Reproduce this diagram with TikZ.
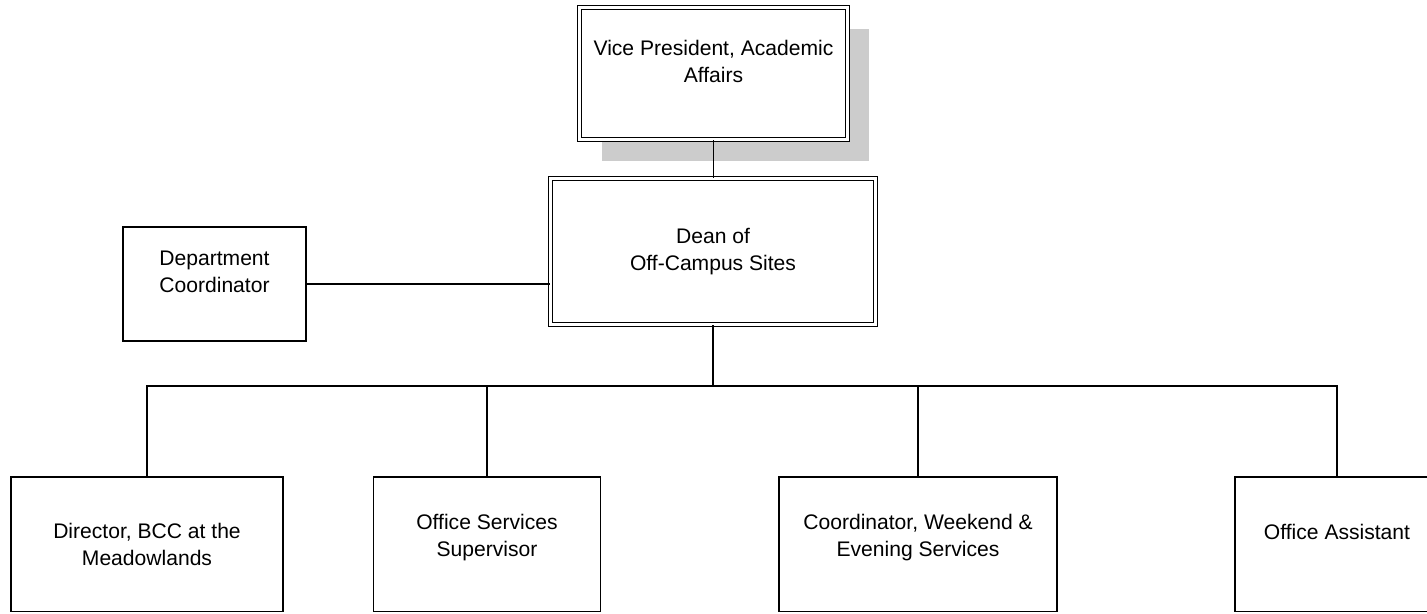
\documentclass[tikz,border=0pt]{standalone}
\usepackage{fontspec}
\setmainfont{Liberation Sans}
\usetikzlibrary{shadows}
\tikzset{
    unit/.style = {rectangle, draw=black, fill=white, line width=0.75pt, inner sep=0pt, align=center, font=\fontsize{12}{15.4}\selectfont},
    headunit/.style = {unit, double, double distance=0.065cm, line width=0.7pt},
    vpunit/.style = {headunit, drop shadow={shadow xshift=0.44cm, shadow yshift=-0.43cm, draw=none, fill=gray!40, opacity=1}},
    link/.style = {draw=black, line width=0.75pt},
}

\begin{document}
\begin{tikzpicture}[x=0.02cm, y=-0.02cm]
\useasboundingbox (0,0) rectangle (1427,613);
\clip (0,0) rectangle (1427,613);
\node[vpunit, minimum width=5.36cm, minimum height=2.64cm] at (713.5, 73.5) (vp) {Vice President, Academic\\Affairs\\[-0.2cm]\strut};
\node[headunit, minimum width=6.50cm, minimum height=2.92cm] at (713.0, 251.5) (dean) {Dean of\\Off-Campus Sites};
\node[unit, minimum width=3.66cm, minimum height=2.28cm] at (214.5, 284.0) (dept) {Department\\Coordinator\\[-0.2cm]\strut};
%
\node[unit, minimum width=5.44cm, minimum height=2.69cm] at (147.0, 544.25) (director) {Director, BCC at the\\Meadowlands};
\node[unit, minimum width=4.54cm, minimum height=2.69cm] at (487.0, 544.25) (supervisor) {Office Services\\Supervisor\\[-0.34cm]\strut};
\node[unit, minimum width=5.56cm, minimum height=2.69cm] at (918.0, 544.25) (weekend) {Coordinator, Weekend \&\\Evening Services\\[-0.34cm]\strut};
\node[unit, minimum width=4.08cm, minimum height=2.69cm] at (1337.0, 544.25) (assistant) {Office Assistant\\[-0.2cm]\strut};
%
\coordinate (bus) at (713, 386);
\draw[link] (vp.south) -- (vp.south |- dean.north);
\draw[link] (dept.east) -- (dept.east -| dean.west);
\draw[link] (dean.south) -- (bus);
\foreach \n in {director, supervisor, weekend, assistant}
    \draw[link] (bus) -| (\n.north);
\end{tikzpicture}
\end{document}
